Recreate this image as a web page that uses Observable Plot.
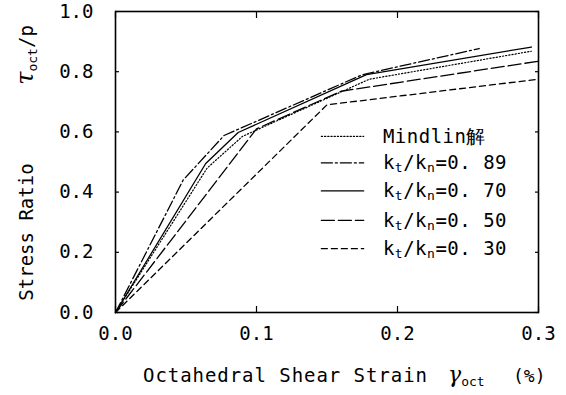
<!DOCTYPE html>
<html><head><meta charset="utf-8">
<script src="https://cdn.jsdelivr.net/npm/d3@7"></script>
<script src="https://cdn.jsdelivr.net/npm/@observablehq/plot@0.6"></script>
<style>
body{margin:0;background:#fff;}
svg text{font-family:"DejaVu Sans Mono",monospace;}
</style></head>
<body><div id="chart"></div>
<script>
const xTicks = [0, 0.1, 0.2, 0.3];
const yTicks = [0, 0.2, 0.4, 0.6, 0.8, 1.0];

const seriesNames = ["Mindlin解", "0.89", "0.70", "0.50", "0.30"];
const mindlinX = [0, 0.065, 0.09, 0.18, 0.295];
const mindlinY = [0, 0.48, 0.585, 0.775, 0.868];
const k089X = [0, 0.048, 0.077, 0.175, 0.258];
const k089Y = [0, 0.44, 0.588, 0.79, 0.877];
const k070X = [0, 0.064, 0.087, 0.178, 0.295];
const k070Y = [0, 0.495, 0.598, 0.79, 0.882];
const k050X = [0, 0.1, 0.16, 0.3];
const k050Y = [0, 0.61, 0.735, 0.835];
const k030X = [0, 0.15, 0.3];
const k030Y = [0, 0.69, 0.775];

const dashes = ["1.2,2", "11,3,2,3", "none", "13,4", "6,4"];
const widths = [1.2, 1.3, 1.3, 1.3, 1.3];
const xs = [mindlinX, k089X, k070X, k050X, k030X];
const ys = [mindlinY, k089Y, k070Y, k050Y, k030Y];

// legend rows (data space)
const legendY = [0.585, 0.497, 0.404, 0.306, 0.212];
const legendX1 = 0.146, legendX2 = 0.176, legendTextX = 0.19;

const series = seriesNames.map((n, i) => xs[i].map((x, j) => ({x, y: ys[i][j]})));

const W = 566, H = 395;
const marks = [];
series.forEach((d, i) => {
  marks.push(Plot.line(d, {x: "x", y: "y", stroke: "#000", strokeWidth: widths[i], strokeDasharray: dashes[i]}));
  marks.push(Plot.line([{x: legendX1, y: legendY[i]}, {x: legendX2, y: legendY[i]}], {x: "x", y: "y", stroke: "#000", strokeWidth: widths[i], strokeDasharray: dashes[i]}));
});

const plot = Plot.plot({
  width: W, height: H,
  marginLeft: 115, marginRight: 28, marginTop: 11, marginBottom: 83,
  x: {domain: [0, 0.3]},
  y: {domain: [0, 1]},
  style: {fontFamily: "DejaVu Sans Mono", fontSize: "19px", color: "#000", background: "#fff"},
  marks: [
    Plot.axisX({ticks: xTicks, tickSize: -6, text: null, label: null, strokeWidth: 1.2}),
    Plot.axisX({ticks: xTicks, anchor: "top", tickSize: -6, text: null, label: null, strokeWidth: 1.2}),
    Plot.axisY({ticks: yTicks, tickSize: -4, text: null, label: null, strokeWidth: 1.2}),
    Plot.axisY({ticks: yTicks, anchor: "right", tickSize: -4, text: null, label: null, strokeWidth: 1.2}),
    Plot.axisX({ticks: xTicks, tickSize: 0, tickPadding: 14, tickFormat: d => d.toFixed(1), label: null, fontSize: 19}),
    Plot.axisY({ticks: yTicks, tickSize: 0, tickPadding: 22, tickFormat: d => d.toFixed(1), label: null, fontSize: 19}),
    Plot.frame({stroke: "#000", strokeWidth: 1.6}),
    ...marks
  ]
});
document.getElementById("chart").appendChild(plot);

const sx = plot.scale("x"), sy = plot.scale("y");
const svg = d3.select(plot);
const fs = 19;

// legend text
seriesNames.forEach((n, i) => {
  const t = svg.append("text")
    .attr("text-anchor", "start")
    .attr("x", sx.apply(legendTextX)).attr("y", sy.apply(legendY[i]) + 7)
    .attr("font-size", fs).attr("fill", "#000").style("letter-spacing", "0.5px");
  if (i === 0) { t.text(n); }
  else {
    t.append("tspan").text("k");
    t.append("tspan").attr("font-size", 13).attr("dy", 3).text("t");
    t.append("tspan").attr("dy", -3).text("/k");
    t.append("tspan").attr("font-size", 13).attr("dy", 3).text("n");
    t.append("tspan").attr("dy", -3).text("=" + n.replace(".", ". "));
  }
});

// x title
const xt = svg.append("text").attr("text-anchor", "start").attr("y", 382).attr("font-size", fs).attr("fill", "#000");
xt.append("tspan").attr("x", 143).attr("textLength", 284).attr("lengthAdjust", "spacing").text("Octahedral Shear Strain");
xt.append("tspan").attr("x", 448).attr("font-family", "DejaVu Serif").attr("font-style", "italic").attr("font-size", 22).text("γ");
xt.append("tspan").attr("font-size", 13).attr("dy", 4).text("oct");
xt.append("tspan").attr("x", 513).attr("dy", -4).attr("font-size", 18).text("(%)");

// y title
const yt = svg.append("g").attr("transform", "translate(33,0) rotate(-90)");
yt.append("text").attr("x", -232).attr("y", 0).attr("text-anchor", "middle").attr("font-size", fs).attr("fill", "#000").text("Stress Ratio");
const yt2 = yt.append("text").attr("x", -55).attr("y", 0).attr("text-anchor", "middle").attr("font-size", fs).attr("fill", "#000");
yt2.append("tspan").attr("font-family", "DejaVu Serif").attr("font-style", "italic").attr("font-size", 24).text("τ");
yt2.append("tspan").attr("font-size", 13).attr("dy", 4).text("oct");
yt2.append("tspan").attr("dy", -4).text("/p");
</script></body></html>
